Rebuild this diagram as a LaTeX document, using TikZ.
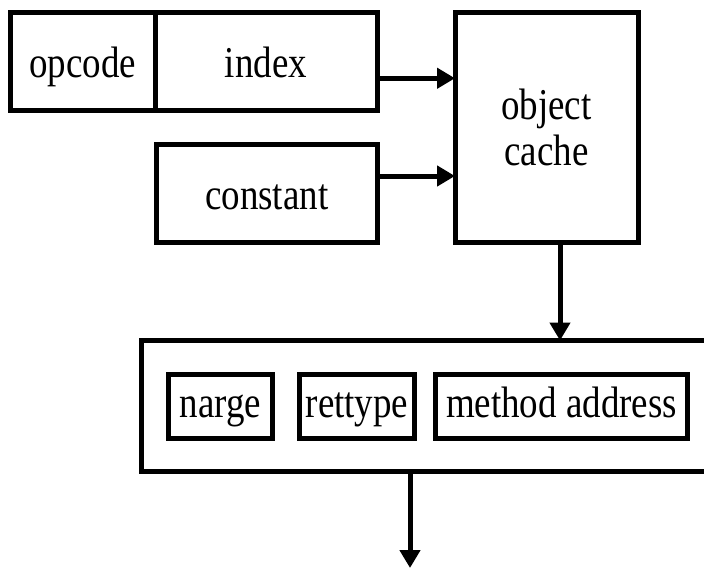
\documentclass[tikz,border=0pt]{standalone}
\usepackage{fontspec}
\setmainfont{Liberation Serif}[FakeStretch=0.84]
\usetikzlibrary{arrows.meta}
\begin{document}
\begin{tikzpicture}[x=1pt,y=-1pt,
  blk/.style={draw, line width=5pt, rectangle, inner sep=0pt, outer sep=0pt,
    font=\fontsize{44}{46}\selectfont},
  upper/.style={blk, text height=33pt, text depth=0pt},
  field/.style={blk, text height=30pt, text depth=9pt, minimum height=64pt},
  arr/.style={line width=5pt, -{Triangle[length=18pt,width=20pt]}}]
\useasboundingbox (0,0) rectangle (704,568);

% instruction word and constant
\node[upper, minimum width=144.5pt, minimum height=97.5pt] (opcode) at (82.75,61.25) {opcode};
\node[upper, minimum width=222pt, minimum height=97.5pt] (index) at (266,61.25) {index};
\node[upper, minimum width=220.5pt, minimum height=98pt] (constant) at (266.75,193) {constant};

% object cache
\node[blk, align=center, minimum width=183pt, minimum height=229.5pt] (cache) at (546.5,127.25) {object\\cache};

% resolved entry with its fields
\node[blk, minimum width=579pt, minimum height=131pt] (entry) at (430.5,406) {};
\node[field, minimum width=104pt] (narge) at (220.5,406.5) {narge};
\node[field, minimum width=115pt] (rettype) at (357,406.5) {rettype};
\node[field, minimum width=252pt] (maddr) at (561.5,406.5) {method address};

\coordinate (out) at (410,568);

% connectors
\draw[arr] ([yshift=-17pt]index.east) -- ([yshift=-17pt]index.east -| cache.west);
\draw[arr] ([yshift=17pt]constant.east) -- ([yshift=17pt]constant.east -| cache.west);
\draw[arr] ([xshift=13.5pt]cache.south) -- ([xshift=13.5pt]cache.south |- entry.north);
\draw[arr] (entry.south -| out) -- (out);
\end{tikzpicture}
\end{document}
